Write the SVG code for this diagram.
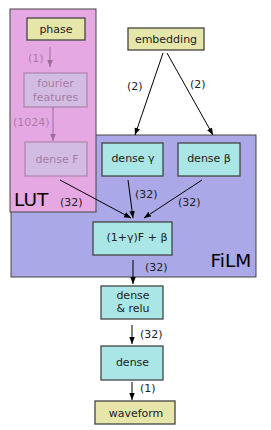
<svg xmlns="http://www.w3.org/2000/svg" width="271" height="430" viewBox="0 0 271 430">
<defs>
<marker id="ah" viewBox="0 0 10 10" refX="10" refY="5" markerWidth="7" markerHeight="7" markerUnits="userSpaceOnUse" orient="auto">
<path d="M0,1 L10,5 L0,9 z" fill="#000"/>
</marker>
<style>
text{font-family:"DejaVu Sans",sans-serif;font-size:11px;fill:#222}
.n{text-anchor:middle}
.big{font-size:18.5px;fill:#000}
.box{stroke:#444;stroke-width:1.3}
.cy{fill:#aae6e6}
.kh{fill:#e6e6aa}
.c{stroke:#000;stroke-width:1;fill:none;marker-end:url(#ah)}
</style>
</defs>
<g id="film">
<rect x="11" y="135" width="245" height="142" fill="#aaa8e6" stroke="#444" stroke-width="1"/>
<text class="big" x="210.5" y="267">FiLM</text>
</g>
<g id="lut">
<rect x="10" y="9" width="86" height="203" fill="#e6a8e3" stroke="#444" stroke-width="1"/>
<text class="big" x="14" y="206">LUT</text>
</g>
<g id="phase">
<rect class="box kh" x="27" y="18" width="58" height="22"/>
<text class="n" x="56" y="33">phase</text>
</g>
<g id="embedding">
<rect class="box kh" x="128" y="28" width="76" height="22"/>
<text class="n" x="166" y="43">embedding</text>
</g>
<g id="faded" opacity="0.33">
<g id="fourier">
<rect class="box cy" x="24" y="73" width="63" height="34"/>
<text class="n" x="55.5" y="87">fourier</text>
<text class="n" x="55.5" y="101">features</text>
</g>
<g id="denseF">
<rect class="box cy" x="25" y="142" width="62" height="34"/>
<text class="n" x="57" y="163">dense F</text>
</g>
<path class="c" d="M50,47 L50,67"/>
<path class="c" d="M53,107 L53,141"/>
<text x="28" y="62">(1)</text>
<text x="13" y="125.5">(1024)</text>
</g>
<g id="denseG">
<rect class="box cy" x="102" y="143" width="61" height="33"/>
<text class="n" x="133" y="162">dense γ</text>
</g>
<g id="denseB">
<rect class="box cy" x="178" y="143" width="62" height="33"/>
<text class="n" x="209" y="162">dense β</text>
</g>
<g id="film-op">
<rect class="box cy" x="93" y="222" width="79" height="33"/>
<text class="n" x="137" y="241">(1+γ)F + β</text>
</g>
<g id="relu">
<rect class="box cy" x="101" y="286" width="62" height="33"/>
<text class="n" x="133" y="298.5">dense</text>
<text class="n" x="133" y="311.5">&amp; relu</text>
</g>
<g id="dense">
<rect class="box cy" x="101" y="346" width="62" height="34"/>
<text class="n" x="132.5" y="366">dense</text>
</g>
<g id="waveform">
<rect class="box kh" x="95" y="401" width="80" height="23"/>
<text class="n" x="136" y="417">waveform</text>
</g>
<g id="connectors">
<path class="c" d="M60,180 L131,218"/>
<path class="c" d="M163,53 L135,135"/>
<path class="c" d="M167,53 L213,135"/>
<path class="c" d="M128,180 L133,218"/>
<path class="c" d="M202,180 L144,218"/>
<path class="c" d="M133,260 L133,284"/>
<path class="c" d="M132,325 L132,344"/>
<path class="c" d="M132,382 L132,400"/>
<text x="127" y="90">(2)</text>
<text x="190" y="88">(2)</text>
<text x="135" y="198">(32)</text>
<text x="178" y="206">(32)</text>
<text x="60" y="206">(32)</text>
<text x="145" y="271">(32)</text>
<text x="140" y="338">(32)</text>
<text x="140" y="392">(1)</text>
</g>
</svg>
